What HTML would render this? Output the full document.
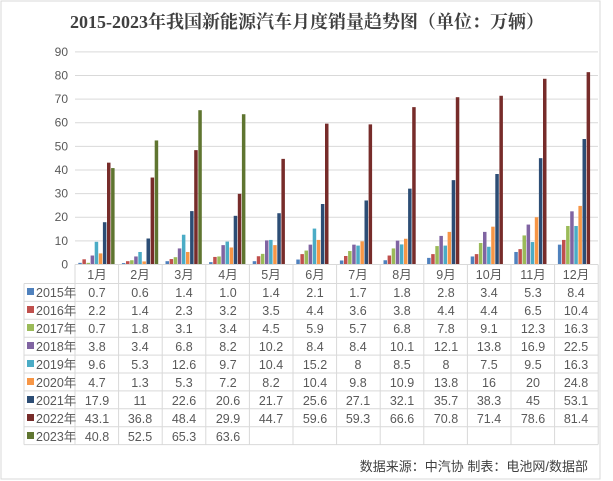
<!DOCTYPE html>
<html><head><meta charset="utf-8"><style>
html,body{margin:0;padding:0;background:#fff;}
body{width:613px;height:481px;position:relative;overflow:hidden;font-family:"Liberation Sans","Noto Sans CJK SC",sans-serif;}
</style></head><body>
<svg id="s" width="613" height="481" xmlns="http://www.w3.org/2000/svg" style="position:absolute;left:0;top:0">
<rect x="1" y="1" width="599" height="478" fill="#fff" stroke="#d9d9d9" stroke-width="1"/>
<text x="307" y="28" text-anchor="middle" font-family="'Liberation Serif','Noto Serif CJK SC',serif" font-weight="bold" font-size="18" fill="#404040">2015-2023年我国新能源汽车月度销量趋势图（单位：万辆）</text>
<g id="grid" stroke="#d9d9d9" stroke-width="1"></g>
<g id="yl" font-size="12" fill="#595959" text-anchor="end"></g>
<g id="bars"></g>
<g id="tbl" stroke="#d9d9d9" stroke-width="1" fill="none"></g>
<g font-size="12.5" fill="#595959" text-anchor="middle" id="txt">
<text x="97" y="279">1月</text><text x="140" y="279">2月</text><text x="184" y="279">3月</text><text x="228" y="279">4月</text><text x="271" y="279">5月</text><text x="315" y="279">6月</text><text x="358" y="279">7月</text><text x="402" y="279">8月</text><text x="446" y="279">9月</text><text x="489" y="279">10月</text><text x="533" y="279">11月</text><text x="576" y="279">12月</text>
</g>
<g font-size="12.5" fill="#595959" text-anchor="middle">
<text y="297"><tspan x="97">0.7</tspan><tspan x="140">0.6</tspan><tspan x="184">1.4</tspan><tspan x="228">1.0</tspan><tspan x="271">1.4</tspan><tspan x="315">2.1</tspan><tspan x="358">1.7</tspan><tspan x="402">1.8</tspan><tspan x="446">2.8</tspan><tspan x="489">3.4</tspan><tspan x="533">5.3</tspan><tspan x="576">8.4</tspan></text>
<text y="315"><tspan x="97">2.2</tspan><tspan x="140">1.4</tspan><tspan x="184">2.3</tspan><tspan x="228">3.2</tspan><tspan x="271">3.5</tspan><tspan x="315">4.4</tspan><tspan x="358">3.6</tspan><tspan x="402">3.8</tspan><tspan x="446">4.4</tspan><tspan x="489">4.4</tspan><tspan x="533">6.5</tspan><tspan x="576">10.4</tspan></text>
<text y="333"><tspan x="97">0.7</tspan><tspan x="140">1.8</tspan><tspan x="184">3.1</tspan><tspan x="228">3.4</tspan><tspan x="271">4.5</tspan><tspan x="315">5.9</tspan><tspan x="358">5.7</tspan><tspan x="402">6.8</tspan><tspan x="446">7.8</tspan><tspan x="489">9.1</tspan><tspan x="533">12.3</tspan><tspan x="576">16.3</tspan></text>
<text y="351"><tspan x="97">3.8</tspan><tspan x="140">3.4</tspan><tspan x="184">6.8</tspan><tspan x="228">8.2</tspan><tspan x="271">10.2</tspan><tspan x="315">8.4</tspan><tspan x="358">8.4</tspan><tspan x="402">10.1</tspan><tspan x="446">12.1</tspan><tspan x="489">13.8</tspan><tspan x="533">16.9</tspan><tspan x="576">22.5</tspan></text>
<text y="369"><tspan x="97">9.6</tspan><tspan x="140">5.3</tspan><tspan x="184">12.6</tspan><tspan x="228">9.7</tspan><tspan x="271">10.4</tspan><tspan x="315">15.2</tspan><tspan x="358">8</tspan><tspan x="402">8.5</tspan><tspan x="446">8</tspan><tspan x="489">7.5</tspan><tspan x="533">9.5</tspan><tspan x="576">16.3</tspan></text>
<text y="387"><tspan x="97">4.7</tspan><tspan x="140">1.3</tspan><tspan x="184">5.3</tspan><tspan x="228">7.2</tspan><tspan x="271">8.2</tspan><tspan x="315">10.4</tspan><tspan x="358">9.8</tspan><tspan x="402">10.9</tspan><tspan x="446">13.8</tspan><tspan x="489">16</tspan><tspan x="533">20</tspan><tspan x="576">24.8</tspan></text>
<text y="405"><tspan x="97">17.9</tspan><tspan x="140">11</tspan><tspan x="184">22.6</tspan><tspan x="228">20.6</tspan><tspan x="271">21.7</tspan><tspan x="315">25.6</tspan><tspan x="358">27.1</tspan><tspan x="402">32.1</tspan><tspan x="446">35.7</tspan><tspan x="489">38.3</tspan><tspan x="533">45</tspan><tspan x="576">53.1</tspan></text>
<text y="423"><tspan x="97">43.1</tspan><tspan x="140">36.8</tspan><tspan x="184">48.4</tspan><tspan x="228">29.9</tspan><tspan x="271">44.7</tspan><tspan x="315">59.6</tspan><tspan x="358">59.3</tspan><tspan x="402">66.6</tspan><tspan x="446">70.8</tspan><tspan x="489">71.4</tspan><tspan x="533">78.6</tspan><tspan x="576">81.4</tspan></text>
<text y="441"><tspan x="97">40.8</tspan><tspan x="140">52.5</tspan><tspan x="184">65.3</tspan><tspan x="228">63.6</tspan></text>
</g>
<g font-size="12.5" fill="#595959">
<text x="36" y="297">2015年</text><text x="36" y="315">2016年</text><text x="36" y="333">2017年</text><text x="36" y="351">2018年</text><text x="36" y="369">2019年</text><text x="36" y="387">2020年</text><text x="36" y="405">2021年</text><text x="36" y="423">2022年</text><text x="36" y="441">2023年</text>
</g>
<g id="leg"></g>
<text x="588" y="471" text-anchor="end" font-size="13" fill="#404040">数据来源：中汽协  制表：电池网/数据部</text>
</svg>
<script>
var NS="http://www.w3.org/2000/svg";
function el(p,t,a){var e=document.createElementNS(NS,t);for(var k in a)e.setAttribute(k,a[k]);document.getElementById(p).appendChild(e);return e;}
var y0=264.5,u=2.363,L=75,cw=43.6,R=598;
for(var i=0;i<=9;i++){var y=y0-i*10*u;if(i>0)el("grid","line",{x1:L,x2:R,y1:y,y2:y});var t=el("yl","text",{x:68,y:y+4});t.textContent=i*10;}
var C=["#4F81BD","#C0504D","#9BBB59","#8064A2","#4BACC6","#F79646","#2C4D75","#772C2A","#5F7530"];
var D=[[0.7,0.6,1.4,1.0,1.4,2.1,1.7,1.8,2.8,3.4,5.3,8.4],[2.2,1.4,2.3,3.2,3.5,4.4,3.6,3.8,4.4,4.4,6.5,10.4],[0.7,1.8,3.1,3.4,4.5,5.9,5.7,6.8,7.8,9.1,12.3,16.3],[3.8,3.4,6.8,8.2,10.2,8.4,8.4,10.1,12.1,13.8,16.9,22.5],[9.6,5.3,12.6,9.7,10.4,15.2,8,8.5,8,7.5,9.5,16.3],[4.7,1.3,5.3,7.2,8.2,10.4,9.8,10.9,13.8,16,20,24.8],[17.9,11,22.6,20.6,21.7,25.6,27.1,32.1,35.7,38.3,45,53.1],[43.1,36.8,48.4,29.9,44.7,59.6,59.3,66.6,70.8,71.4,78.6,81.4],[40.8,52.5,65.3,63.6]];
for(var s=0;s<9;s++){for(var m=0;m<D[s].length;m++){var h=D[s][m]*u;el("bars","rect",{x:L+m*cw+3.3+s*4.1,y:y0-h,width:3.5,height:h,fill:C[s]});}
el("leg","rect",{x:27,y:288+s*18,width:7,height:7,fill:C[s]});}
// table
el("tbl","line",{x1:L,x2:R,y1:y0,y2:y0});
for(var r=0;r<10;r++){var y=283.5+r*17.9;el("tbl","line",{x1:24,x2:R,y1:y,y2:y});}
for(var c=0;c<=12;c++){var x=L+c*cw;el("tbl","line",{x1:x,x2:x,y1:y0,y2:444.6});}
el("tbl","line",{x1:24,x2:24,y1:283.5,y2:444.6});
</script>
</body></html>
